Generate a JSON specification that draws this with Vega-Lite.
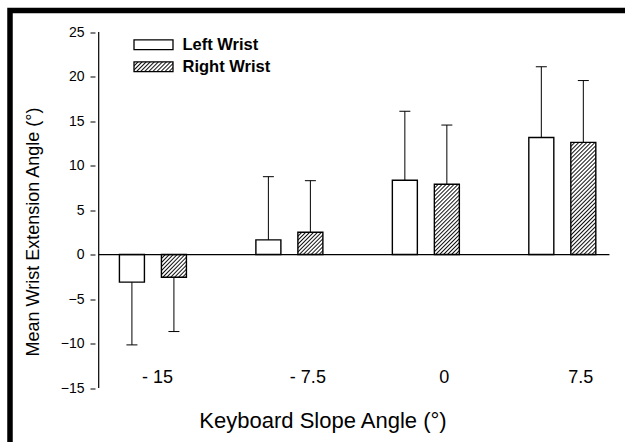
{
  "$schema": "https://vega.github.io/schema/vega-lite/v6.json",
  "width": 625,
  "height": 442,
  "autosize": {"type": "none"},
  "padding": {"left": 10, "top": 10.5, "right": -10, "bottom": -10.5},
  "background": "white",
  "config": {
    "font": "Liberation Sans",
    "view": {"stroke": "black", "strokeWidth": 5.5, "fill": "white"},
    "axis": {"grid": false, "labelColor": "black", "titleColor": "black", "tickColor": "black", "domain": false, "titleFontWeight": "normal"}
  },
  "data": {
    "values": [
      {"angle": -15, "wrist": "Left Wrist", "mean": -3.1, "err": -10.15},
      {"angle": -7.5, "wrist": "Left Wrist", "mean": 1.65, "err": 8.75},
      {"angle": 0, "wrist": "Left Wrist", "mean": 8.35, "err": 16.1},
      {"angle": 7.5, "wrist": "Left Wrist", "mean": 13.15, "err": 21.1},
      {"angle": -15, "wrist": "Right Wrist", "mean": -2.55, "err": -8.65},
      {"angle": -7.5, "wrist": "Right Wrist", "mean": 2.5, "err": 8.3},
      {"angle": 0, "wrist": "Right Wrist", "mean": 7.9, "err": 14.55},
      {"angle": 7.5, "wrist": "Right Wrist", "mean": 12.6, "err": 19.55}
    ]
  },
  "layer": [
    {
      "transform": [{"filter": "datum.wrist === 'Left Wrist'"}],
      "mark": {"type": "bar", "size": 25, "xOffset": -21, "fill": "white", "stroke": "black", "strokeWidth": 1.4},
      "encoding": {
        "x": {
          "field": "angle", "type": "quantitative",
          "scale": {"domain": [-22.58, 11.22], "nice": false, "zero": false},
          "axis": {
            "values": [-15, -7.5, 0, 7.5], "orient": "bottom", "offset": -87.5,
            "ticks": false, "domain": false, "labelFontSize": 18, "labelBaseline": "alphabetic",
            "labelPadding": 17, "labelFlush": false, "labelOverlap": false,
            "labelExpr": "datum.value === -15 ? '- 15' : datum.value === -7.5 ? '- 7.5' : datum.value === 7.5 ? '7.5' : '0'",
            "labelOffset": {"condition": {"test": "datum.value === -15", "value": 4}, "value": 18},
            "title": "Keyboard Slope Angle (°)", "titleFontSize": 22, "titleY": 62,
            "titleBaseline": "alphabetic", "titleFontWeight": "normal"
          }
        },
        "y": {
          "field": "mean", "type": "quantitative",
          "scale": {"domain": [-22.24, 27.42], "nice": false, "zero": false},
          "axis": {
            "values": [-15, -10, -5, 0, 5, 10, 15, 20, 25], "orient": "left", "offset": -85,
            "domain": false, "ticks": true, "tickSize": 5, "tickWidth": 1,
            "labelFontSize": 14, "labelPadding": 6, "labelFlush": false, "labelOverlap": false,
            "title": "Mean Wrist Extension Angle (°)", "titleFontSize": 18, "titlePadding": 18,
            "titleFontWeight": "normal"
          }
        },
        "y2": {"datum": 0}
      }
    },
    {
      "transform": [{"filter": "datum.wrist === 'Right Wrist'"}],
      "mark": {"type": "bar", "size": 25, "xOffset": 21, "stroke": "black", "strokeWidth": 1.4},
      "encoding": {
        "x": {"field": "angle", "type": "quantitative"},
        "y": {"field": "mean", "type": "quantitative"},
        "y2": {"datum": 0},
        "fill": {
          "condition": [
            {"test": "datum.angle === 0", "value": {"gradient": "linear", "x1": 0, "y1": 0, "x2": 0.428, "y2": 1.2034, "stops": [{"offset":0,"color":"#111"},{"offset":0.0146,"color":"#fff"},{"offset":0.0271,"color":"#fff"},{"offset":0.0417,"color":"#111"},{"offset":0.0563,"color":"#fff"},{"offset":0.0688,"color":"#fff"},{"offset":0.0833,"color":"#111"},{"offset":0.0979,"color":"#fff"},{"offset":0.1104,"color":"#fff"},{"offset":0.125,"color":"#111"},{"offset":0.1396,"color":"#fff"},{"offset":0.1521,"color":"#fff"},{"offset":0.1667,"color":"#111"},{"offset":0.1813,"color":"#fff"},{"offset":0.1938,"color":"#fff"},{"offset":0.2083,"color":"#111"},{"offset":0.2229,"color":"#fff"},{"offset":0.2354,"color":"#fff"},{"offset":0.25,"color":"#111"},{"offset":0.2646,"color":"#fff"},{"offset":0.2771,"color":"#fff"},{"offset":0.2917,"color":"#111"},{"offset":0.3063,"color":"#fff"},{"offset":0.3188,"color":"#fff"},{"offset":0.3333,"color":"#111"},{"offset":0.3479,"color":"#fff"},{"offset":0.3604,"color":"#fff"},{"offset":0.375,"color":"#111"},{"offset":0.3896,"color":"#fff"},{"offset":0.4021,"color":"#fff"},{"offset":0.4167,"color":"#111"},{"offset":0.4313,"color":"#fff"},{"offset":0.4438,"color":"#fff"},{"offset":0.4583,"color":"#111"},{"offset":0.4729,"color":"#fff"},{"offset":0.4854,"color":"#fff"},{"offset":0.5,"color":"#111"},{"offset":0.5146,"color":"#fff"},{"offset":0.5271,"color":"#fff"},{"offset":0.5417,"color":"#111"},{"offset":0.5563,"color":"#fff"},{"offset":0.5688,"color":"#fff"},{"offset":0.5833,"color":"#111"},{"offset":0.5979,"color":"#fff"},{"offset":0.6104,"color":"#fff"},{"offset":0.625,"color":"#111"},{"offset":0.6396,"color":"#fff"},{"offset":0.6521,"color":"#fff"},{"offset":0.6667,"color":"#111"},{"offset":0.6813,"color":"#fff"},{"offset":0.6938,"color":"#fff"},{"offset":0.7083,"color":"#111"},{"offset":0.7229,"color":"#fff"},{"offset":0.7354,"color":"#fff"},{"offset":0.75,"color":"#111"},{"offset":0.7646,"color":"#fff"},{"offset":0.7771,"color":"#fff"},{"offset":0.7917,"color":"#111"},{"offset":0.8063,"color":"#fff"},{"offset":0.8188,"color":"#fff"},{"offset":0.8333,"color":"#111"},{"offset":0.8479,"color":"#fff"},{"offset":0.8604,"color":"#fff"},{"offset":0.875,"color":"#111"},{"offset":0.8896,"color":"#fff"},{"offset":0.9021,"color":"#fff"},{"offset":0.9167,"color":"#111"},{"offset":0.9313,"color":"#fff"},{"offset":0.9438,"color":"#fff"},{"offset":0.9583,"color":"#111"},{"offset":0.9729,"color":"#fff"},{"offset":0.9854,"color":"#fff"},{"offset":1,"color":"#111"}]}},
            {"test": "datum.angle === 7.5", "value": {"gradient": "linear", "x1": 0, "y1": 0, "x2": 0.2598, "y2": 1.1651, "stops": [{"offset":0,"color":"#111"},{"offset":0.0103,"color":"#fff"},{"offset":0.0191,"color":"#fff"},{"offset":0.0294,"color":"#111"},{"offset":0.0397,"color":"#fff"},{"offset":0.0485,"color":"#fff"},{"offset":0.0588,"color":"#111"},{"offset":0.0691,"color":"#fff"},{"offset":0.0779,"color":"#fff"},{"offset":0.0882,"color":"#111"},{"offset":0.0985,"color":"#fff"},{"offset":0.1073,"color":"#fff"},{"offset":0.1176,"color":"#111"},{"offset":0.1279,"color":"#fff"},{"offset":0.1367,"color":"#fff"},{"offset":0.1471,"color":"#111"},{"offset":0.1574,"color":"#fff"},{"offset":0.1662,"color":"#fff"},{"offset":0.1765,"color":"#111"},{"offset":0.1868,"color":"#fff"},{"offset":0.1956,"color":"#fff"},{"offset":0.2059,"color":"#111"},{"offset":0.2162,"color":"#fff"},{"offset":0.225,"color":"#fff"},{"offset":0.2353,"color":"#111"},{"offset":0.2456,"color":"#fff"},{"offset":0.2544,"color":"#fff"},{"offset":0.2647,"color":"#111"},{"offset":0.275,"color":"#fff"},{"offset":0.2838,"color":"#fff"},{"offset":0.2941,"color":"#111"},{"offset":0.3044,"color":"#fff"},{"offset":0.3132,"color":"#fff"},{"offset":0.3235,"color":"#111"},{"offset":0.3338,"color":"#fff"},{"offset":0.3426,"color":"#fff"},{"offset":0.3529,"color":"#111"},{"offset":0.3632,"color":"#fff"},{"offset":0.372,"color":"#fff"},{"offset":0.3824,"color":"#111"},{"offset":0.3927,"color":"#fff"},{"offset":0.4015,"color":"#fff"},{"offset":0.4118,"color":"#111"},{"offset":0.4221,"color":"#fff"},{"offset":0.4309,"color":"#fff"},{"offset":0.4412,"color":"#111"},{"offset":0.4515,"color":"#fff"},{"offset":0.4603,"color":"#fff"},{"offset":0.4706,"color":"#111"},{"offset":0.4809,"color":"#fff"},{"offset":0.4897,"color":"#fff"},{"offset":0.5,"color":"#111"},{"offset":0.5103,"color":"#fff"},{"offset":0.5191,"color":"#fff"},{"offset":0.5294,"color":"#111"},{"offset":0.5397,"color":"#fff"},{"offset":0.5485,"color":"#fff"},{"offset":0.5588,"color":"#111"},{"offset":0.5691,"color":"#fff"},{"offset":0.5779,"color":"#fff"},{"offset":0.5882,"color":"#111"},{"offset":0.5985,"color":"#fff"},{"offset":0.6073,"color":"#fff"},{"offset":0.6176,"color":"#111"},{"offset":0.6279,"color":"#fff"},{"offset":0.6367,"color":"#fff"},{"offset":0.6471,"color":"#111"},{"offset":0.6574,"color":"#fff"},{"offset":0.6662,"color":"#fff"},{"offset":0.6765,"color":"#111"},{"offset":0.6868,"color":"#fff"},{"offset":0.6956,"color":"#fff"},{"offset":0.7059,"color":"#111"},{"offset":0.7162,"color":"#fff"},{"offset":0.725,"color":"#fff"},{"offset":0.7353,"color":"#111"},{"offset":0.7456,"color":"#fff"},{"offset":0.7544,"color":"#fff"},{"offset":0.7647,"color":"#111"},{"offset":0.775,"color":"#fff"},{"offset":0.7838,"color":"#fff"},{"offset":0.7941,"color":"#111"},{"offset":0.8044,"color":"#fff"},{"offset":0.8132,"color":"#fff"},{"offset":0.8235,"color":"#111"},{"offset":0.8338,"color":"#fff"},{"offset":0.8426,"color":"#fff"},{"offset":0.8529,"color":"#111"},{"offset":0.8632,"color":"#fff"},{"offset":0.872,"color":"#fff"},{"offset":0.8824,"color":"#111"},{"offset":0.8927,"color":"#fff"},{"offset":0.9015,"color":"#fff"},{"offset":0.9118,"color":"#111"},{"offset":0.9221,"color":"#fff"},{"offset":0.9309,"color":"#fff"},{"offset":0.9412,"color":"#111"},{"offset":0.9515,"color":"#fff"},{"offset":0.9603,"color":"#fff"},{"offset":0.9706,"color":"#111"},{"offset":0.9809,"color":"#fff"},{"offset":0.9897,"color":"#fff"},{"offset":1,"color":"#111"}]}}
          ],
          "value": {"gradient": "linear", "x1": 0, "y1": 0, "x2": 1.0546, "y2": 0.9386, "stops": [{"offset":0,"color":"#111"},{"offset":0.0292,"color":"#fff"},{"offset":0.0542,"color":"#fff"},{"offset":0.0833,"color":"#111"},{"offset":0.1125,"color":"#fff"},{"offset":0.1375,"color":"#fff"},{"offset":0.1667,"color":"#111"},{"offset":0.1958,"color":"#fff"},{"offset":0.2208,"color":"#fff"},{"offset":0.25,"color":"#111"},{"offset":0.2792,"color":"#fff"},{"offset":0.3042,"color":"#fff"},{"offset":0.3333,"color":"#111"},{"offset":0.3625,"color":"#fff"},{"offset":0.3875,"color":"#fff"},{"offset":0.4167,"color":"#111"},{"offset":0.4458,"color":"#fff"},{"offset":0.4708,"color":"#fff"},{"offset":0.5,"color":"#111"},{"offset":0.5292,"color":"#fff"},{"offset":0.5542,"color":"#fff"},{"offset":0.5833,"color":"#111"},{"offset":0.6125,"color":"#fff"},{"offset":0.6375,"color":"#fff"},{"offset":0.6667,"color":"#111"},{"offset":0.6958,"color":"#fff"},{"offset":0.7208,"color":"#fff"},{"offset":0.75,"color":"#111"},{"offset":0.7792,"color":"#fff"},{"offset":0.8042,"color":"#fff"},{"offset":0.8333,"color":"#111"},{"offset":0.8625,"color":"#fff"},{"offset":0.8875,"color":"#fff"},{"offset":0.9167,"color":"#111"},{"offset":0.9458,"color":"#fff"},{"offset":0.9708,"color":"#fff"},{"offset":1,"color":"#111"}]}
        }
      }
    },
    {
      "mark": {"type": "point", "opacity": 0, "size": 380, "filled": true},
      "encoding": {
        "x": {"field": "angle", "type": "quantitative"},
        "y": {"field": "mean", "type": "quantitative"},
        "fill": {"field": "angle", "type": "nominal", "legend": null},
        "shape": {
          "field": "wrist", "type": "nominal",
          "scale": {"domain": ["Left Wrist", "Right Wrist"], "range": ["M-2,-0.5H2V0.5H-2Z", "M-2,-0.5H2V0.5H-2Z"]},
          "legend": {
            "orient": "none", "legendX": 133, "legendY": 23.75, "title": null,
            "symbolSize": 380,
            "symbolStrokeColor": "black", "symbolStrokeWidth": 1.3, "symbolOpacity": 1,
            "symbolFillColor": {"expr": "datum.value === 'Right Wrist' ? {gradient: 'linear', x1: 0, y1: 0, x2: 1.1765, y2: 0.2941, stops: [{offset:0,color:'#111'},{offset:0.0292,color:'#fff'},{offset:0.0542,color:'#fff'},{offset:0.0833,color:'#111'},{offset:0.1125,color:'#fff'},{offset:0.1375,color:'#fff'},{offset:0.1667,color:'#111'},{offset:0.1958,color:'#fff'},{offset:0.2208,color:'#fff'},{offset:0.25,color:'#111'},{offset:0.2792,color:'#fff'},{offset:0.3042,color:'#fff'},{offset:0.3333,color:'#111'},{offset:0.3625,color:'#fff'},{offset:0.3875,color:'#fff'},{offset:0.4167,color:'#111'},{offset:0.4458,color:'#fff'},{offset:0.4708,color:'#fff'},{offset:0.5,color:'#111'},{offset:0.5292,color:'#fff'},{offset:0.5542,color:'#fff'},{offset:0.5833,color:'#111'},{offset:0.6125,color:'#fff'},{offset:0.6375,color:'#fff'},{offset:0.6667,color:'#111'},{offset:0.6958,color:'#fff'},{offset:0.7208,color:'#fff'},{offset:0.75,color:'#111'},{offset:0.7792,color:'#fff'},{offset:0.8042,color:'#fff'},{offset:0.8333,color:'#111'},{offset:0.8625,color:'#fff'},{offset:0.8875,color:'#fff'},{offset:0.9167,color:'#111'},{offset:0.9458,color:'#fff'},{offset:0.9708,color:'#fff'},{offset:1,color:'#111'}]} : 'white'"},
            "labelFontSize": 16.5, "labelFontWeight": "bold", "labelColor": "black",
            "labelOffset": 18.5, "padding": 0, "rowPadding": 3
          }
        }
      }
    },
    {
      "data": {"values": [{}]},
      "mark": {"type": "rule", "color": "black", "strokeWidth": 1.2},
      "encoding": {"x": {"datum": -17.98}, "y": {"datum": -15}, "y2": {"datum": 25}}
    },
    {
      "data": {"values": [{}]},
      "mark": {"type": "rule", "color": "black", "strokeWidth": 1.2},
      "encoding": {"x": {"datum": -17.98}, "x2": {"datum": 10.09}, "y": {"datum": 0}}
    },
    {
      "transform": [{"filter": "datum.wrist === 'Left Wrist'"}],
      "mark": {"type": "rule", "xOffset": -21, "color": "black", "strokeWidth": 1},
      "encoding": {"x": {"field": "angle", "type": "quantitative"}, "y": {"field": "mean", "type": "quantitative"}, "y2": {"field": "err"}}
    },
    {
      "transform": [{"filter": "datum.wrist === 'Right Wrist'"}],
      "mark": {"type": "rule", "xOffset": 21, "color": "black", "strokeWidth": 1},
      "encoding": {"x": {"field": "angle", "type": "quantitative"}, "y": {"field": "mean", "type": "quantitative"}, "y2": {"field": "err"}}
    },
    {
      "transform": [{"filter": "datum.wrist === 'Left Wrist'"}],
      "mark": {"type": "tick", "orient": "horizontal", "size": 11, "thickness": 1, "xOffset": -21, "color": "black", "opacity": 1},
      "encoding": {"x": {"field": "angle", "type": "quantitative"}, "y": {"field": "err", "type": "quantitative"}}
    },
    {
      "transform": [{"filter": "datum.wrist === 'Right Wrist'"}],
      "mark": {"type": "tick", "orient": "horizontal", "size": 11, "thickness": 1, "xOffset": 21, "color": "black", "opacity": 1},
      "encoding": {"x": {"field": "angle", "type": "quantitative"}, "y": {"field": "err", "type": "quantitative"}}
    }
  ]
}
